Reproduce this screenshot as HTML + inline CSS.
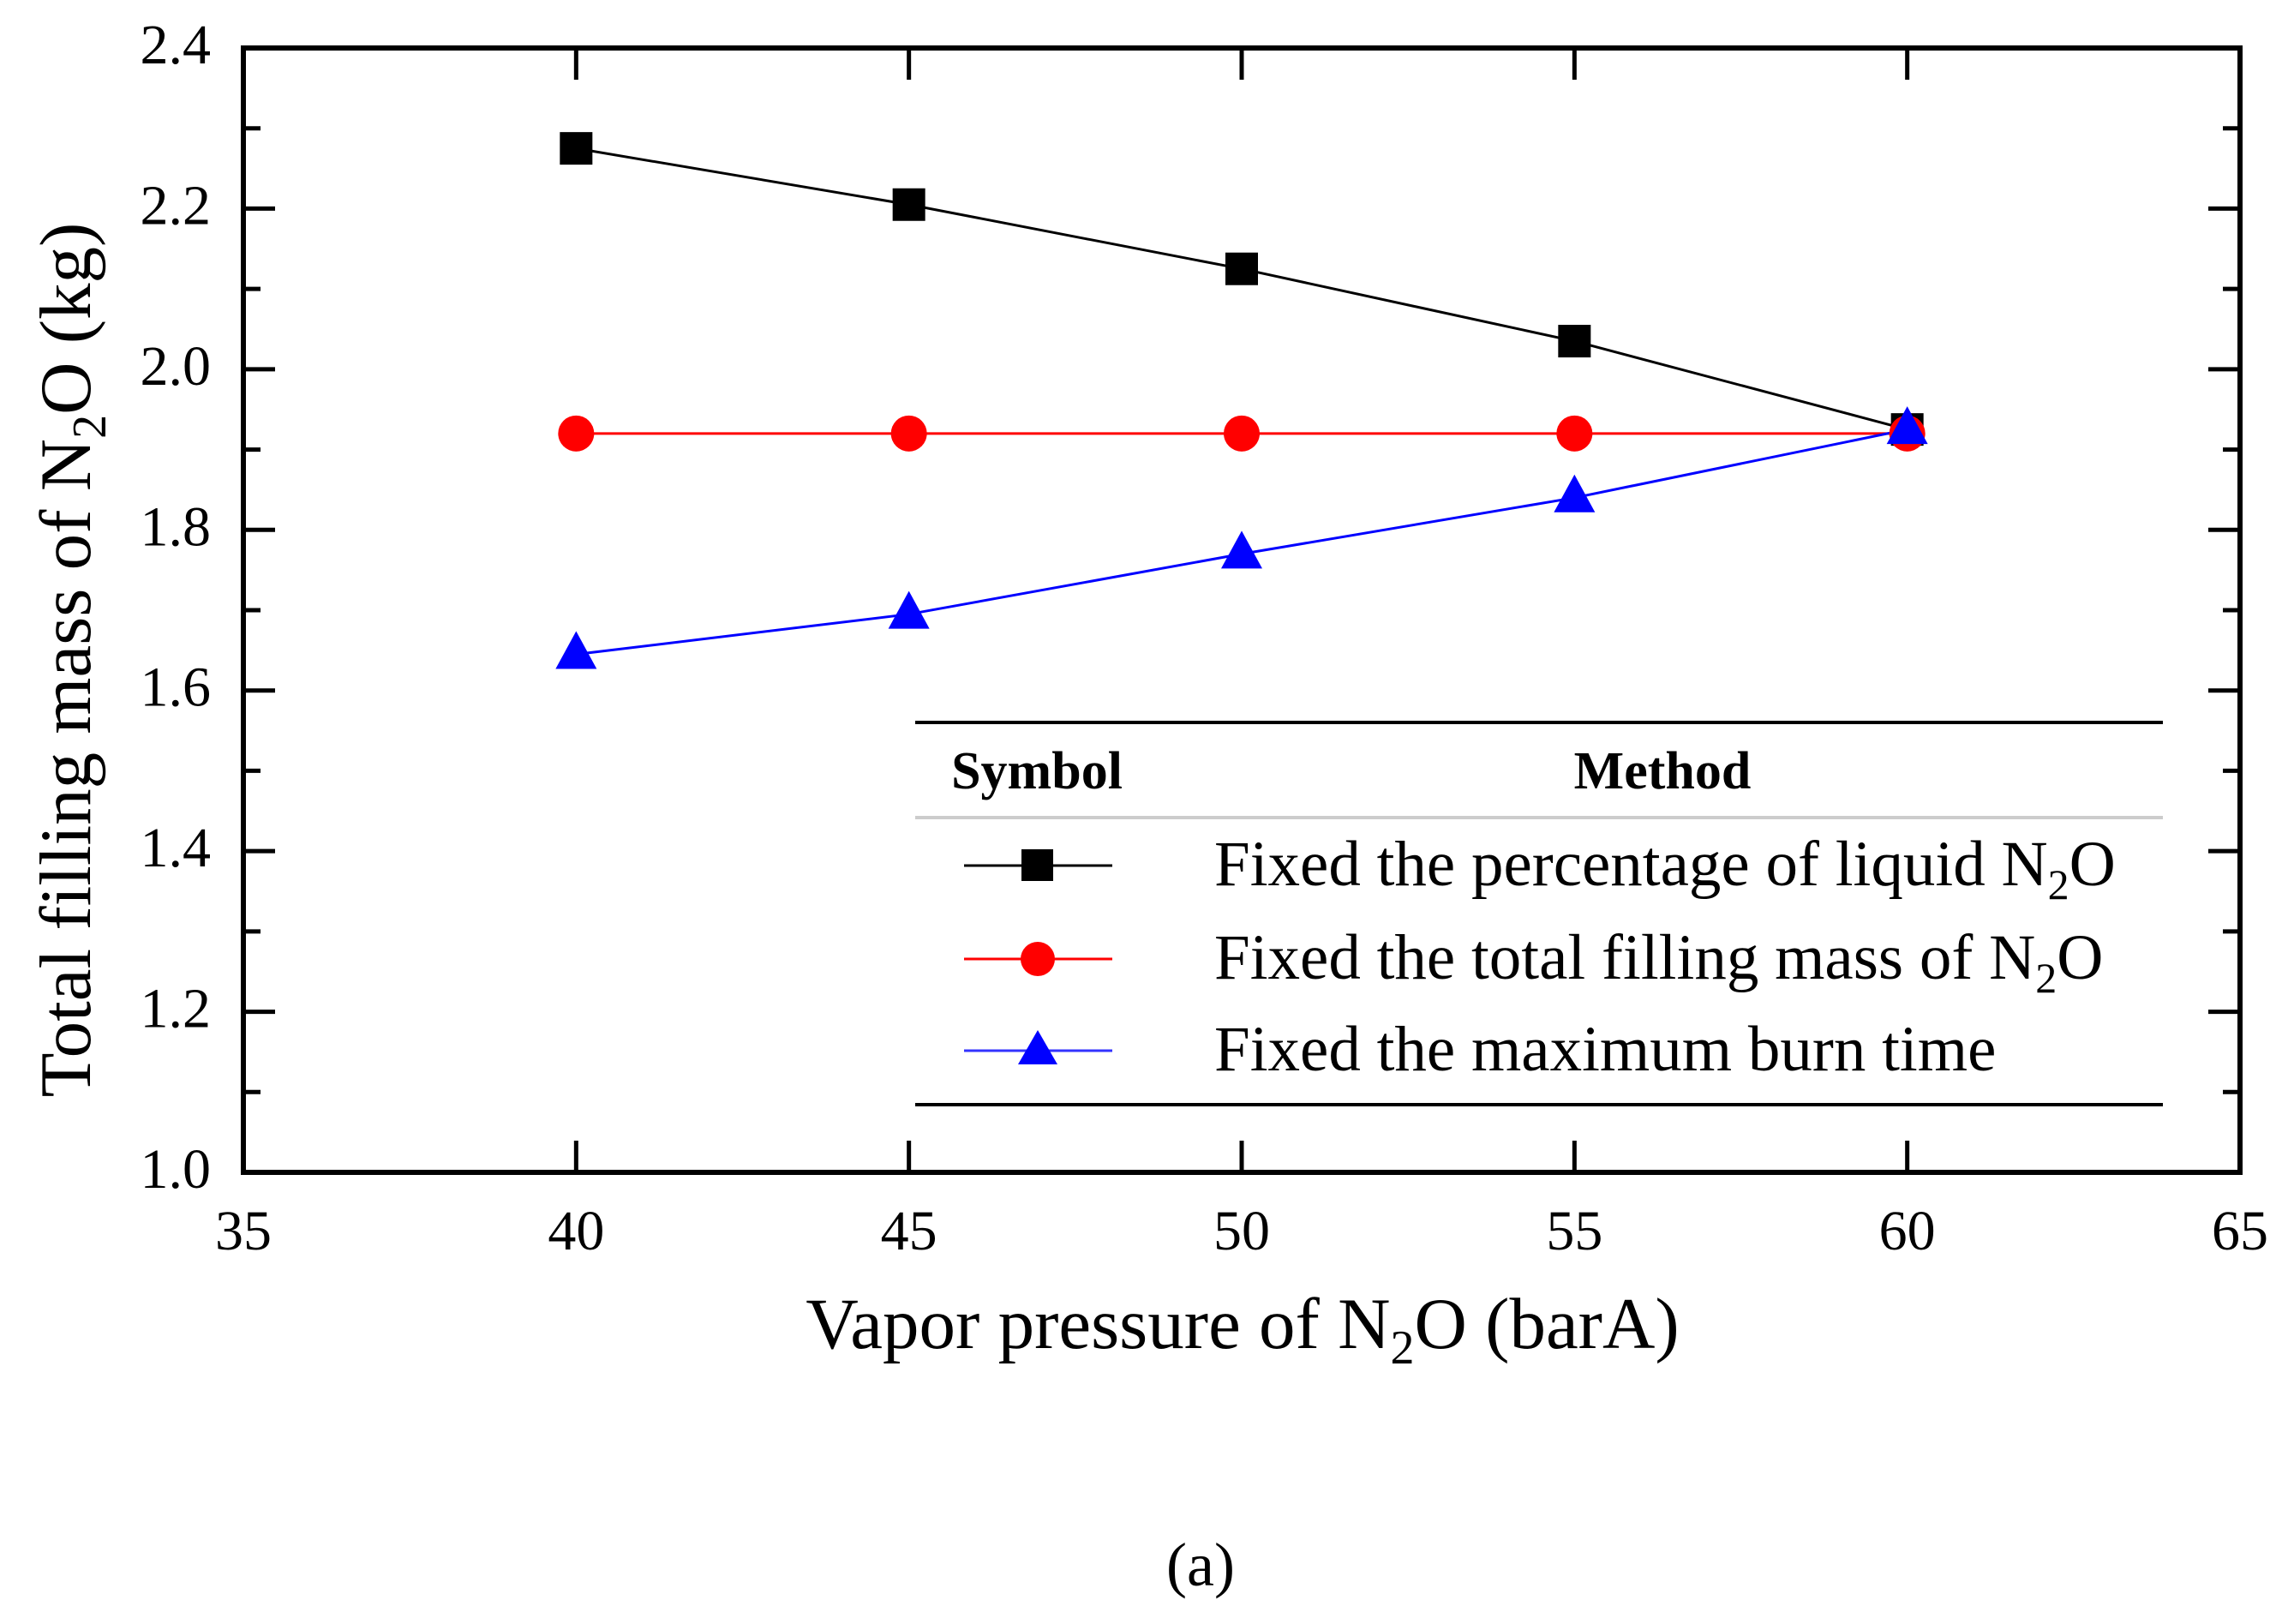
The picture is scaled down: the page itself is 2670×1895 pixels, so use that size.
<!DOCTYPE html>
<html><head><meta charset="utf-8"><style>
html,body{margin:0;padding:0;background:#fff;}
svg{display:block;font-family:"Liberation Serif",serif;}
</style></head><body>
<svg id="chart" width="2670" height="1895" viewBox="0 0 2670 1895" xmlns="http://www.w3.org/2000/svg">
<g id="axes"></g>
<g id="series"></g>
<g id="legend">
  <line x1="1068" y1="843" x2="2524" y2="843" stroke="#000" stroke-width="4"/>
  <text x="1210" y="920" font-size="62" font-weight="bold" text-anchor="middle">Symbol</text>
  <text x="1940" y="920" font-size="62" font-weight="bold" text-anchor="middle">Method</text>
  <line x1="1068" y1="954" x2="2524" y2="954" stroke="#ccc" stroke-width="4"/>
  <line x1="1068" y1="1289" x2="2524" y2="1289" stroke="#000" stroke-width="4"/>
  <g>
    <line x1="1125" y1="1010" x2="1298" y2="1010" stroke="#000" stroke-width="3"/>
    <rect x="1192" y="991" width="37" height="37" fill="#000"/>
    <text x="1417" y="1033" font-size="75">Fixed the percentage of liquid N<tspan font-size="50" dy="16">2</tspan><tspan dy="-16">O</tspan></text>
  </g>
  <g>
    <line x1="1125" y1="1119" x2="1298" y2="1119" stroke="#f00" stroke-width="3"/>
    <circle cx="1211" cy="1119" r="20" fill="#f00"/>
    <text x="1417" y="1142" font-size="75">Fixed the total filling mass of N<tspan font-size="50" dy="16">2</tspan><tspan dy="-16">O</tspan></text>
  </g>
  <g>
    <line x1="1125" y1="1226" x2="1298" y2="1226" stroke="#33f" stroke-width="3"/>
    <polygon points="1211,1202 1234,1242 1188,1242" fill="#00f"/>
    <text x="1417" y="1249" font-size="75">Fixed the maximum burn time</text>
  </g>
</g>
<text x="1450" y="1573" font-size="85" text-anchor="middle">Vapor pressure of N<tspan font-size="56" dy="18">2</tspan><tspan dy="-18">O (barA)</tspan></text>
<text transform="translate(105,770) rotate(-90)" font-size="85" text-anchor="middle">Total filling mass of N<tspan font-size="56" dy="18">2</tspan><tspan dy="-18">O (kg)</tspan></text>
<text x="1401" y="1850" font-size="72" text-anchor="middle">(a)</text>
</svg>
<script>
var xValues = [40, 45, 50, 55, 60];
var liquidPct = [2.275, 2.205, 2.125, 2.035, 1.925];
var totalMass = [1.92, 1.92, 1.92, 1.92, 1.92];
var burnTime = [1.645, 1.695, 1.77, 1.84, 1.925];
var xTicks = [35, 40, 45, 50, 55, 60, 65];
var yTicks = ["1.0","1.2","1.4","1.6","1.8","2.0","2.2","2.4"];

var L=284,R=2614,T=56,B=1368;
var X0=35,X1=65,Y0=1.0,Y1=2.4;
function xs(v){return L+(v-X0)/(X1-X0)*(R-L);}
function ys(v){return B-(v-Y0)/(Y1-Y0)*(B-T);}
var NS="http://www.w3.org/2000/svg";
function mk(tag,attrs,parent){var e=document.createElementNS(NS,tag);for(var k in attrs)e.setAttribute(k,attrs[k]);parent.appendChild(e);return e;}
var axes=document.getElementById('axes');
var fr=mk('rect',{x:L,y:T,width:R-L,height:B-T,fill:'none',stroke:'#000','stroke-width':6},axes);


var tl=37,tm=20;
xTicks.forEach(function(v,i){
  var x=xs(v);
  mk('line',{x1:x,y1:B,x2:x,y2:B-tl,stroke:'#000','stroke-width':5},axes);
  mk('line',{x1:x,y1:T,x2:x,y2:T+tl,stroke:'#000','stroke-width':5},axes);
  var t=mk('text',{x:x,y:1458,'font-size':66,'text-anchor':'middle'},axes);
  t.textContent=v;
  
  
});
yTicks.forEach(function(s,i){
  var v=parseFloat(s),y=ys(v);
  mk('line',{x1:L,y1:y,x2:L+tl,y2:y,stroke:'#000','stroke-width':5},axes);
  mk('line',{x1:R,y1:y,x2:R-tl,y2:y,stroke:'#000','stroke-width':5},axes);
  if(i<yTicks.length-1){var ym=ys(v+0.1);
    mk('line',{x1:L,y1:ym,x2:L+tm,y2:ym,stroke:'#000','stroke-width':5},axes);
    mk('line',{x1:R,y1:ym,x2:R-tm,y2:ym,stroke:'#000','stroke-width':5},axes);}
  var t=mk('text',{x:246,y:y+18,'font-size':66,'text-anchor':'end'},axes);
  t.textContent=s;
  
  
});
var ser=document.getElementById('series');
function line(vals,color,name){
  var pts=vals.map(function(v,i){return xs(xValues[i])+','+ys(v);}).join(' ');
  var p=mk('polyline',{points:pts,fill:'none',stroke:color,'stroke-width':3},ser);
  
  
}
line(liquidPct,'#000','line-liquid-percentage');
line(totalMass,'#f00','line-total-mass');
line(burnTime,'#00f','line-max-burn-time');
liquidPct.forEach(function(v,i){var e=mk('rect',{x:xs(xValues[i])-19,y:ys(v)-19,width:38,height:38,fill:'#000'},ser);
  
  });
totalMass.forEach(function(v,i){var e=mk('circle',{cx:xs(xValues[i]),cy:ys(v),r:21,fill:'#f00'},ser);
  
  });
burnTime.forEach(function(v,i){var x=xs(xValues[i]),y=ys(v);
  var e=mk('polygon',{points:x+','+(y-27)+' '+(x+24)+','+(y+17)+' '+(x-24)+','+(y+17),fill:'#00f'},ser);
  
  });
</script>
</body></html>
